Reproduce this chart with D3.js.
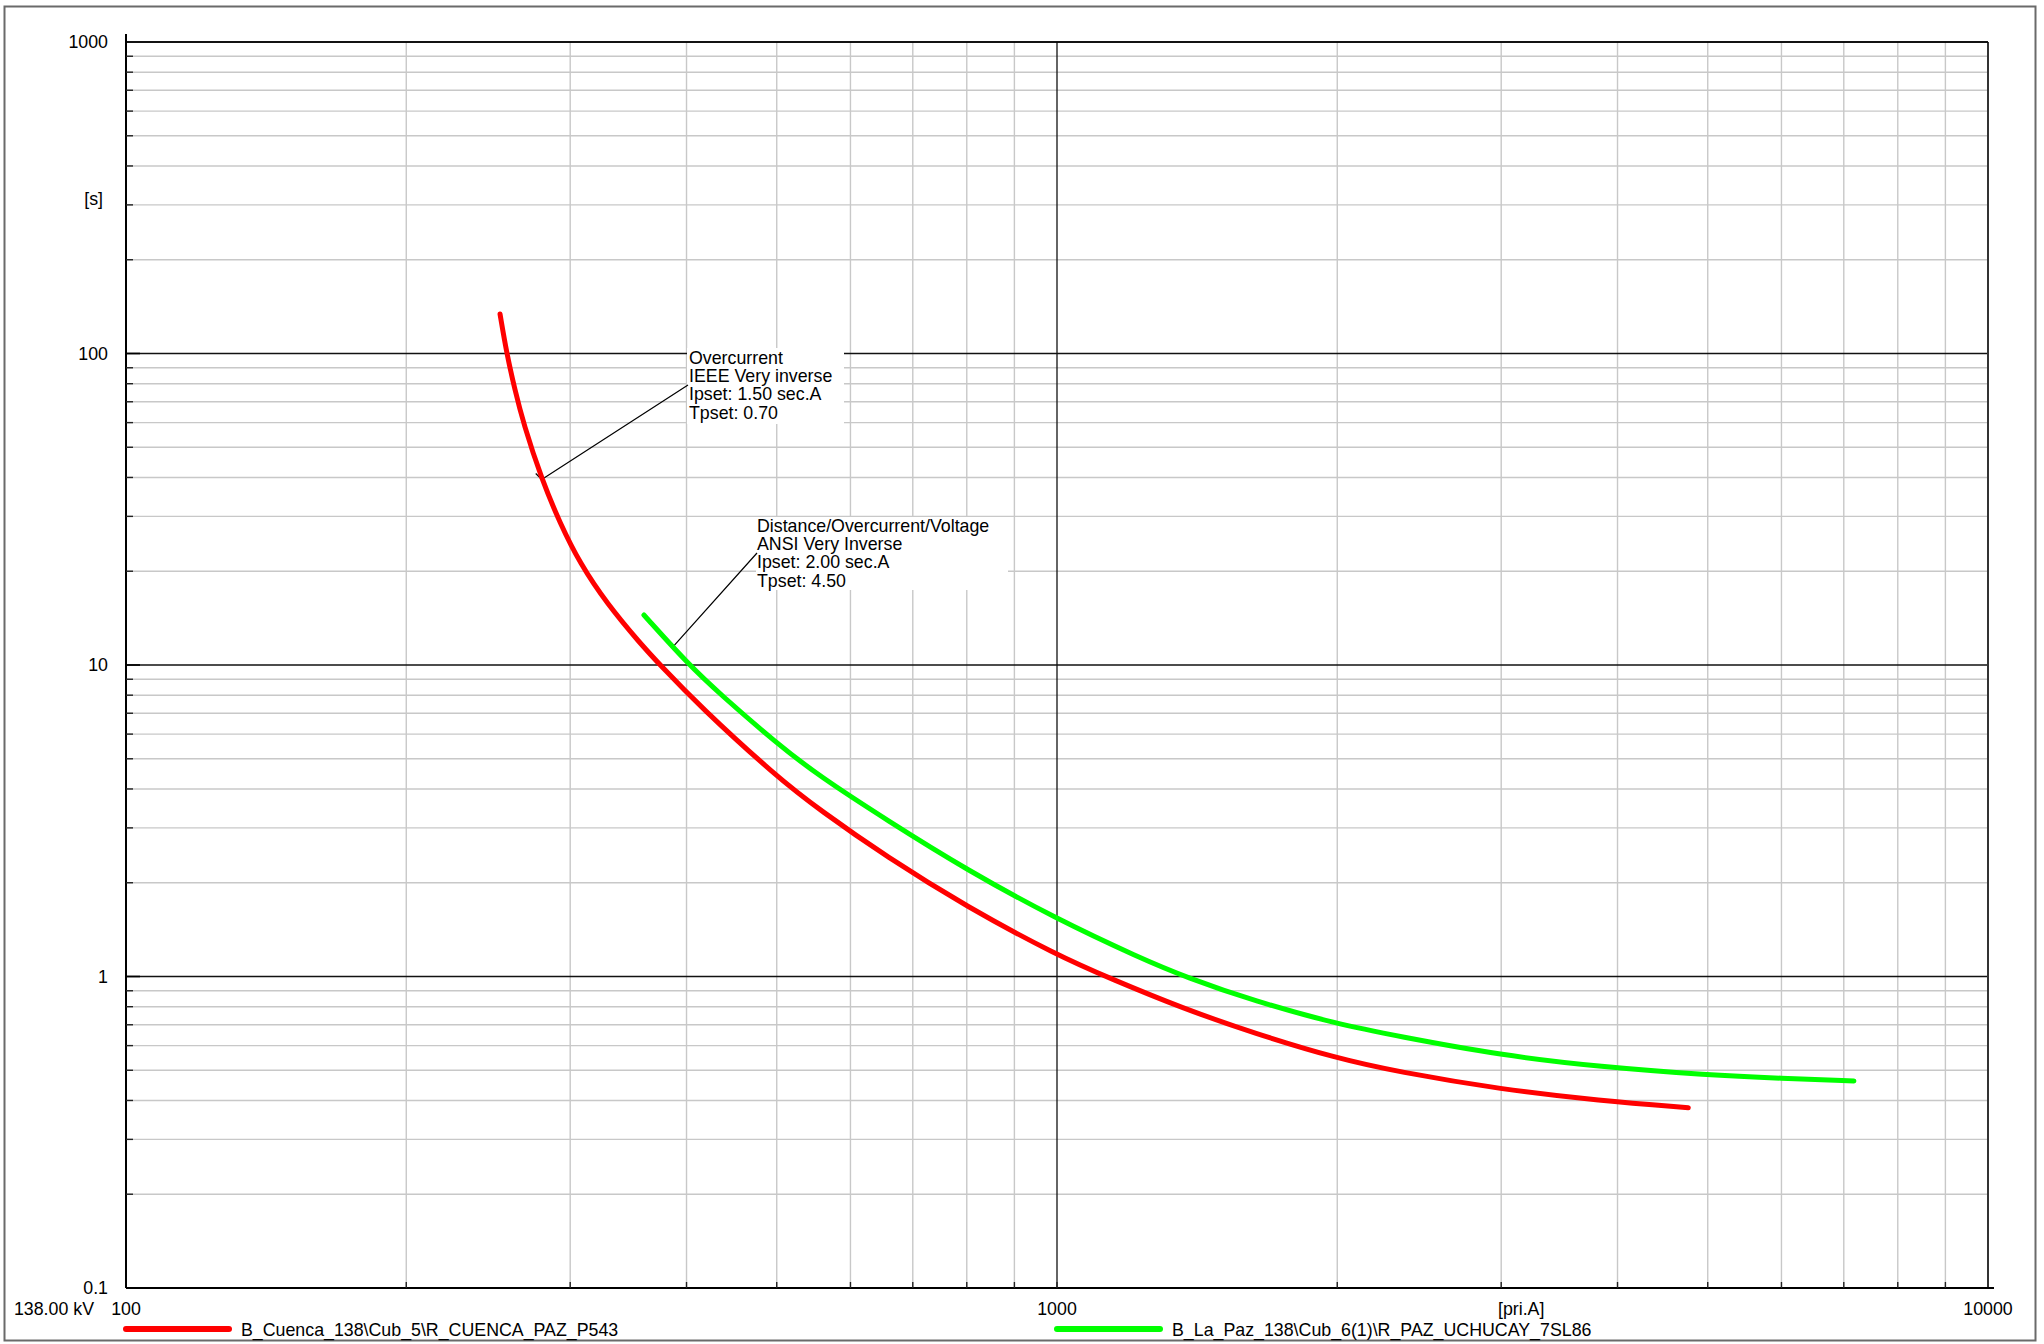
<!DOCTYPE html>
<html>
<head>
<meta charset="utf-8">
<script src="https://cdn.jsdelivr.net/npm/d3@7"></script>
<style>
  html, body { margin: 0; padding: 0; background: #fff; }
  svg { display: block; }
  text { font-family: "Liberation Sans", Arial, sans-serif; font-size: 17.8px; fill: #000; }
</style>
</head>
<body>
<svg id="chart" width="2044" height="1344"></svg>
<script>
// ---- Data ----
const redCurrent = [252.2, 256.4, 261.7, 267.2, 279.6, 292.6, 307.3, 328.3, 356.6, 374.7, 413.7, 499.8, 556.5, 656.3, 799.8, 999, 1144, 1365, 1629, 1998, 2319, 3002, 3831, 4765];
const redTime    = [133.9, 100.1, 76.3, 59.7, 39.4, 28.5, 21.2, 15.78, 11.74, 10.0, 7.35, 4.38, 3.42, 2.42, 1.675, 1.172, 0.982, 0.790, 0.657, 0.546, 0.495, 0.434, 0.399, 0.379];

const greenCurrent = [360.0, 401.8, 434.5, 499.8, 556.5, 656.3, 799.8, 999, 1228, 1377, 1629, 1998, 2319, 3002, 3831, 5000, 6002, 7178];
const greenTime    = [14.47, 10.05, 8.07, 5.61, 4.38, 3.18, 2.20, 1.53, 1.147, 0.994, 0.834, 0.704, 0.644, 0.558, 0.513, 0.483, 0.471, 0.462];

const seriesNames  = ["B_Cuenca_138\\Cub_5\\R_CUENCA_PAZ_P543", "B_La_Paz_138\\Cub_6(1)\\R_PAZ_UCHUCAY_7SL86"];
const seriesColors = ["#ff0000", "#00ff00"];

const yTickValues = [0.1, 1, 10, 100, 1000];
const yTickLabels = ["0.1", "1", "10", "100", "1000"];
const xTickValues = [100, 1000, 10000];
const xTickLabels = ["100", "1000", "10000"];
const yUnit = "[s]";
const xUnit = "[pri.A]";
const xUnitValue = 3000;
const voltageLabel = "138.00 kV";

const ann1Lines = ["Overcurrent", "IEEE Very inverse", "Ipset: 1.50 sec.A", "Tpset: 0.70"];
const ann1Anchor = [279.6, 39.4];
const ann2Lines = ["Distance/Overcurrent/Voltage", "ANSI Very Inverse", "Ipset: 2.00 sec.A", "Tpset: 4.50"];
const ann2Anchor = [387.4, 11.5];

// ---- Layout ----
const svg = d3.select("#chart");
const L = 126, R = 1988, T = 42, B = 1288;
const x = d3.scaleLog().domain([100, 10000]).range([L, R]);
const y = d3.scaleLog().domain([0.1, 1000]).range([B, T]);

// outer frame
svg.append("rect").attr("x", 4.5).attr("y", 6.5).attr("width", 2031).attr("height", 1334)
  .attr("fill", "none").attr("stroke", "#6a6a6a").attr("stroke-width", 2);

// minor grid values
const minorX = [], minorY = [];
for (let d = 100; d < 10000; d *= 10) for (let k = 2; k <= 9; k++) minorX.push(d * k);
for (let d = 0.1; d < 999; d *= 10) for (let k = 2; k <= 9; k++) minorY.push(+(d * k).toPrecision(3));

const grid = svg.append("g");
grid.selectAll(".mx").data(minorX).enter().append("line")
  .attr("x1", d => x(d)).attr("x2", d => x(d)).attr("y1", T).attr("y2", B)
  .attr("stroke", "#c8c8c8").attr("stroke-width", 1.4);
grid.selectAll(".my").data(minorY).enter().append("line")
  .attr("x1", L).attr("x2", R).attr("y1", d => y(d)).attr("y2", d => y(d))
  .attr("stroke", "#c8c8c8").attr("stroke-width", 1.4);
// major grid
grid.selectAll(".Mx").data([1000]).enter().append("line")
  .attr("x1", d => x(d)).attr("x2", d => x(d)).attr("y1", T).attr("y2", B)
  .attr("stroke", "#111").attr("stroke-width", 1.3);
grid.selectAll(".My").data([1, 10, 100, 1000]).enter().append("line")
  .attr("x1", L).attr("x2", R).attr("y1", d => y(d)).attr("y2", d => y(d))
  .attr("stroke", "#111").attr("stroke-width", 1.3);

// annotation boxes (white) covering the grid
function annBox(x0, y0, w, h) {
  svg.append("rect").attr("x", x0).attr("y", y0).attr("width", w).attr("height", h).attr("fill", "#fff");
}
annBox(687, 348, 157, 76);
annBox(756, 517, 252, 73);

// axes frame
svg.append("line").attr("x1", R).attr("x2", R).attr("y1", T).attr("y2", B).attr("stroke", "#333").attr("stroke-width", 2);
svg.append("line").attr("x1", L).attr("x2", R).attr("y1", T).attr("y2", T).attr("stroke", "#000").attr("stroke-width", 1.6);
svg.append("line").attr("x1", L).attr("x2", L).attr("y1", T - 8).attr("y2", B).attr("stroke", "#000").attr("stroke-width", 2);
svg.append("line").attr("x1", L).attr("x2", R + 6).attr("y1", B).attr("y2", B).attr("stroke", "#000").attr("stroke-width", 2);

// ticks
svg.selectAll(".ty").data(minorY).enter().append("line")
  .attr("x1", L).attr("x2", L + 7).attr("y1", d => y(d)).attr("y2", d => y(d))
  .attr("stroke", "#222").attr("stroke-width", 1.4);
svg.selectAll(".tY").data([1, 10, 100]).enter().append("line")
  .attr("x1", L).attr("x2", L + 14).attr("y1", d => y(d)).attr("y2", d => y(d))
  .attr("stroke", "#000").attr("stroke-width", 1.6);
svg.selectAll(".tx").data(minorX.concat([1000])).enter().append("line")
  .attr("x1", d => x(d)).attr("x2", d => x(d)).attr("y1", B).attr("y2", B - 6)
  .attr("stroke", "#222").attr("stroke-width", 1.4);

// tick labels
svg.selectAll(".ly").data(yTickValues).enter().append("text")
  .attr("x", 108).attr("y", d => y(d) + 6).attr("text-anchor", "end")
  .text((d, i) => yTickLabels[i]);
svg.append("text").attr("x", 103).attr("y", 205).attr("text-anchor", "end").text(yUnit);
svg.selectAll(".lx").data(xTickValues).enter().append("text")
  .attr("x", d => x(d)).attr("y", B + 27).attr("text-anchor", "middle")
  .text((d, i) => xTickLabels[i]);
svg.append("text").attr("x", x(xUnitValue) + 20).attr("y", B + 27).attr("text-anchor", "middle").text(xUnit);
svg.append("text").attr("x", 94).attr("y", B + 27).attr("text-anchor", "end").text(voltageLabel);

// leader lines
function leader(textX, textY, anchor) {
  const ax = x(anchor[0]), ay = y(anchor[1]);
  svg.append("polyline")
    .attr("points", `${textX},${textY} ${ax},${ay} ${ax - 6},${ay - 6}`)
    .attr("fill", "none").attr("stroke", "#000").attr("stroke-width", 1.2);
}
leader(688, 385, ann1Anchor);
leader(757, 553, ann2Anchor);

// annotation text
function annText(lines, x0, y0) {
  svg.append("g").selectAll("text").data(lines).enter().append("text")
    .attr("x", x0).attr("y", (d, i) => y0 + i * 18.2).text(d => d);
}
annText(ann1Lines, 689, 364);
annText(ann2Lines, 757, 532);

// curves
const lineGen = d3.line().x(d => x(d[0])).y(d => y(d[1])).curve(d3.curveBasis);
const redData = redCurrent.map((c, i) => [c, redTime[i]]);
const greenData = greenCurrent.map((c, i) => [c, greenTime[i]]);
[redData, greenData].forEach((data, i) => {
  svg.append("path").attr("d", lineGen(data)).attr("fill", "none")
    .attr("stroke", seriesColors[i]).attr("stroke-width", 5)
    .attr("stroke-linecap", "round").attr("stroke-linejoin", "round");
});

// legend
const legendX = [126, 1057];
seriesNames.forEach((name, i) => {
  svg.append("line").attr("x1", legendX[i]).attr("x2", legendX[i] + 103)
    .attr("y1", 1329).attr("y2", 1329).attr("stroke", seriesColors[i])
    .attr("stroke-width", 6).attr("stroke-linecap", "round");
  svg.append("text").attr("x", legendX[i] + 115).attr("y", 1336).text(name);
});
</script>
</body>
</html>
